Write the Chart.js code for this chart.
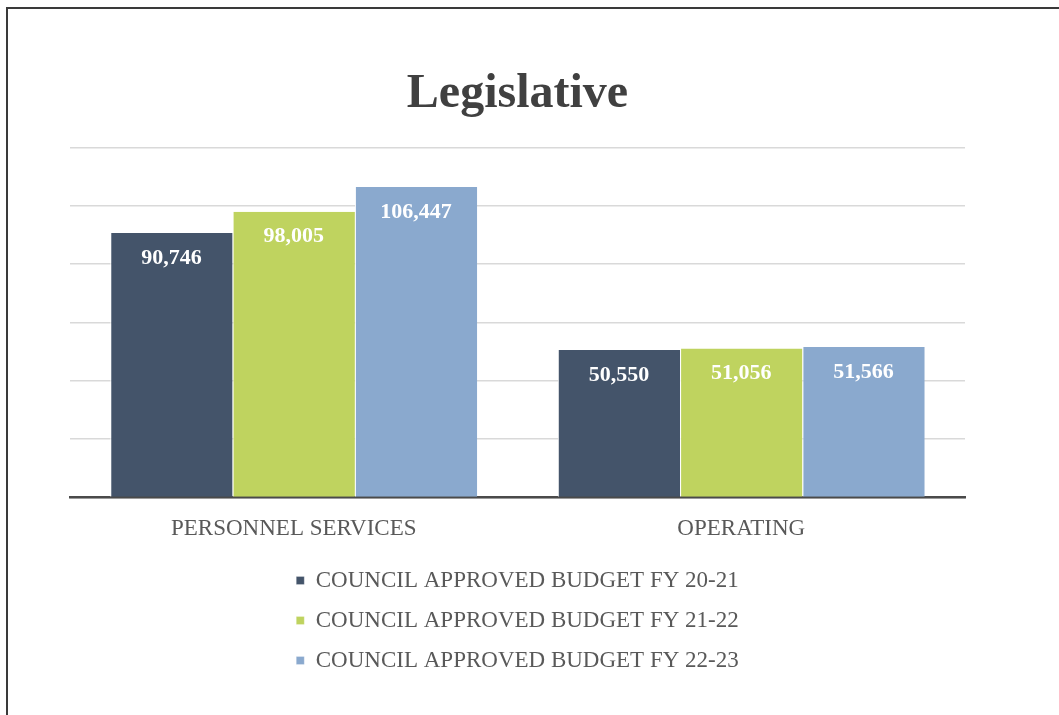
<!DOCTYPE html>
<html>
<head>
<meta charset="utf-8">
<title>Legislative</title>
<script src="https://cdn.jsdelivr.net/npm/chart.js@4/dist/chart.umd.min.js"></script>
<style>
  html, body { margin: 0; padding: 0; background: #fff; }
  #wrap { position: relative; width: 1059px; height: 715px; overflow: hidden; }
  #frame { position: absolute; left: 6px; top: 7px; right: -4px; bottom: -4px;
           border-left: 2px solid #3a3a3a; border-top: 2px solid #3a3a3a; }
  #chart { position: absolute; left: 0; top: 0; }
</style>
</head>
<body>
<div id="wrap">
  <canvas id="chart" width="1059" height="715"></canvas>
  <div id="frame"></div>
</div>
<script>
var categories = ['PERSONNEL SERVICES', 'OPERATING'];
var seriesNames = [
    'COUNCIL APPROVED BUDGET FY 20-21',
    'COUNCIL APPROVED BUDGET FY 21-22',
    'COUNCIL APPROVED BUDGET FY 22-23'
];
var fy2021 = [90746, 50550];
var fy2122 = [98005, 51056];
var fy2223 = [106447, 51566];
var seriesColors = ['#44546a', '#bfd35f', '#8aa9ce'];

var serif = "'Liberation Serif', 'Times New Roman', serif";

// white value labels inside the top of each bar
var barValues = {
    id: 'barValues',
    afterDatasetsDraw: function (chart) {
        var ctx = chart.ctx;
        ctx.save();
        ctx.font = 'bold 22px ' + serif;
        ctx.fillStyle = '#ffffff';
        ctx.textAlign = 'center';
        ctx.textBaseline = 'middle';
        chart.data.datasets.forEach(function (ds, i) {
            chart.getDatasetMeta(i).data.forEach(function (bar, j) {
                ctx.fillText(ds.data[j].toLocaleString('en-US'), bar.x, bar.y + 25);
            });
        });
        ctx.restore();
    }
};

var ctx = document.getElementById('chart').getContext('2d');
var myChart = new Chart(ctx, {
    type: 'bar',
    data: {
        labels: categories,
        datasets: [{
            label: seriesNames[0],
            data: fy2021,
            backgroundColor: seriesColors[0]
        },
        {
            label: seriesNames[1],
            data: fy2122,
            backgroundColor: seriesColors[1]
        },
        {
            label: seriesNames[2],
            data: fy2223,
            backgroundColor: seriesColors[2]
        }]
    },
    options: {
        responsive: false,
        animation: false,
        datasets: {
            bar: {
                categoryPercentage: 0.82,
                barPercentage: 1,
                borderColor: '#ffffff',
                borderWidth: { left: 1, right: 0, top: 0, bottom: 0 },
                borderSkipped: false
            }
        },
        layout: {
            padding: { left: 70, right: 94, top: 39, bottom: 33 }
        },
        plugins: {
            title: {
                display: true,
                text: 'Legislative',
                color: '#404040',
                font: { family: serif, size: 48, weight: 'bold' },
                padding: { top: 27, bottom: 24 }
            },
            legend: {
                position: 'bottom',
                labels: {
                    color: '#595959',
                    font: { family: serif, size: 23 },
                    boxWidth: 8,
                    boxHeight: 8,
                    padding: 17
                }
            },
            tooltip: { enabled: false }
        },
        scales: {
            x: {
                grid: { display: false, drawTicks: false },
                border: { display: true, color: '#4a4a4a', width: 2.5 },
                ticks: {
                    color: '#595959',
                    font: { family: serif, size: 23 },
                    padding: 18
                },
                // tighten the gap between the category labels and the legend
                afterFit: function (scale) {
                    scale.height -= 9;
                }
            },
            y: {
                min: 0,
                max: 120000,
                ticks: { display: false, stepSize: 20000 },
                grid: { color: '#d9d9d9', lineWidth: 1.5, drawTicks: false },
                border: { display: false }
            }
        }
    },
    plugins: [barValues]
});
</script>
</body>
</html>
